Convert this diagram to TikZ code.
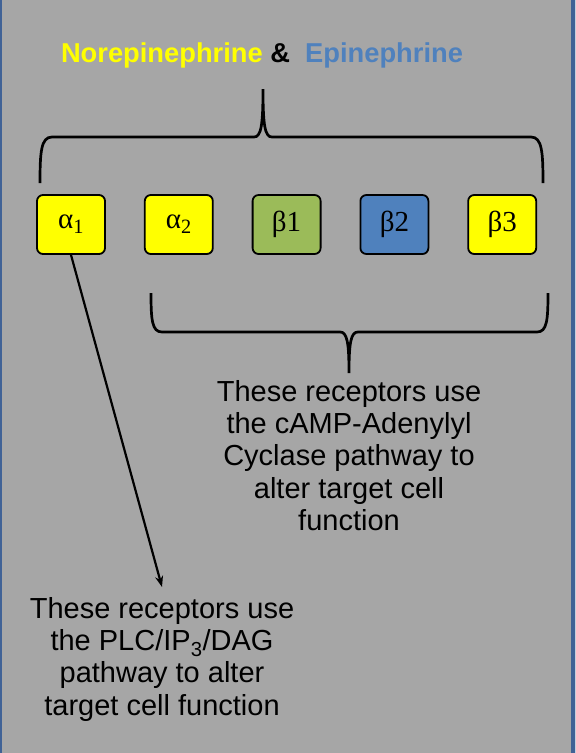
\documentclass[tikz,border=0pt]{standalone}
\usepackage{fontspec}
\setmainfont{Liberation Sans}
\newfontfamily\labelfont{Liberation Serif}
\usetikzlibrary{positioning,arrows.meta}

\definecolor{slidegray}{RGB}{166,166,166}
\definecolor{frameblue}{RGB}{64,98,150}
\definecolor{recyellow}{RGB}{255,255,0}
\definecolor{recgreen}{RGB}{155,187,89}
\definecolor{recblue}{RGB}{79,129,189}

\begin{document}
\begin{tikzpicture}[x=1pt, y=-1pt,
  receptor/.style={draw, line width=1.8pt, rounded corners=6pt,
    minimum width=68pt, minimum height=59pt, inner sep=0pt,
    font=\labelfont\fontsize{29}{29}\selectfont},
  brace/.style={line width=2.7pt},
  note/.style={align=center, inner sep=0pt, anchor=north,
    font=\fontsize{29}{32.3}\selectfont}]

  % Slide background
  \useasboundingbox (0,0) rectangle (576,753);
  \fill[slidegray] (0,0) rectangle (576,753);
  \fill[frameblue] (0,0) rectangle (1.5,753);
  \fill[frameblue] (570.5,0) rectangle (574.5,753);
  \fill[white!70!frameblue] (574.5,0) rectangle (576,753);

  % Title
  \node[anchor=base, font=\bfseries\fontsize{27.3}{27}\selectfont] (title) at (262,62)
    {{\color{recyellow}Norepinephrine} \& \ {\color{recblue}Epinephrine}};

  % Receptor boxes
  \node[receptor, fill=recyellow] (a1) at (71,224.5) {α\textsubscript{1}};
  \node[receptor, fill=recyellow, right=38pt of a1] (a2) {α\textsubscript{2}};
  \node[receptor, fill=recgreen, right=38pt of a2] (b1) {β1};
  \node[receptor, fill=recblue, right=38pt of b1] (b2) {β2};
  \node[receptor, fill=recyellow, right=38pt of b2] (b3) {β3};

  % Brace over all receptors
  \draw[brace] (40,183) .. controls (40,152) and (41,137) .. (52,137) -- (254,137)
    .. controls (261,137) and (263,126) .. (263,89)
    .. controls (263,126) and (265,137) .. (272,137) -- (531,137)
    .. controls (542,137) and (543,152) .. (543,183);

  % Brace under the cAMP receptors
  \draw[brace] (151,293) .. controls (151,320) and (152,332) .. (162,332) -- (340,332)
    .. controls (347,332) and (349,342) .. (349,373)
    .. controls (349,342) and (351,332) .. (358,332) -- (537,332)
    .. controls (547,332) and (548,320) .. (548,293);

  % Pathway notes
  \node[note] (camp) at (349,380) {These receptors use\\the cAMP-Adenylyl\\Cyclase pathway to\\alter target cell\\function};
  \node[note] (plc) at (162,597) {These receptors use\\the PLC/IP\textsubscript{3}/DAG\\pathway to alter\\target cell function};

  % Arrow from alpha 1 to its pathway
  \draw[-{Stealth[length=11pt, width=8pt]}, line width=2.2pt] (a1.south) -- ([yshift=10pt]plc.north);

\end{tikzpicture}
\end{document}
